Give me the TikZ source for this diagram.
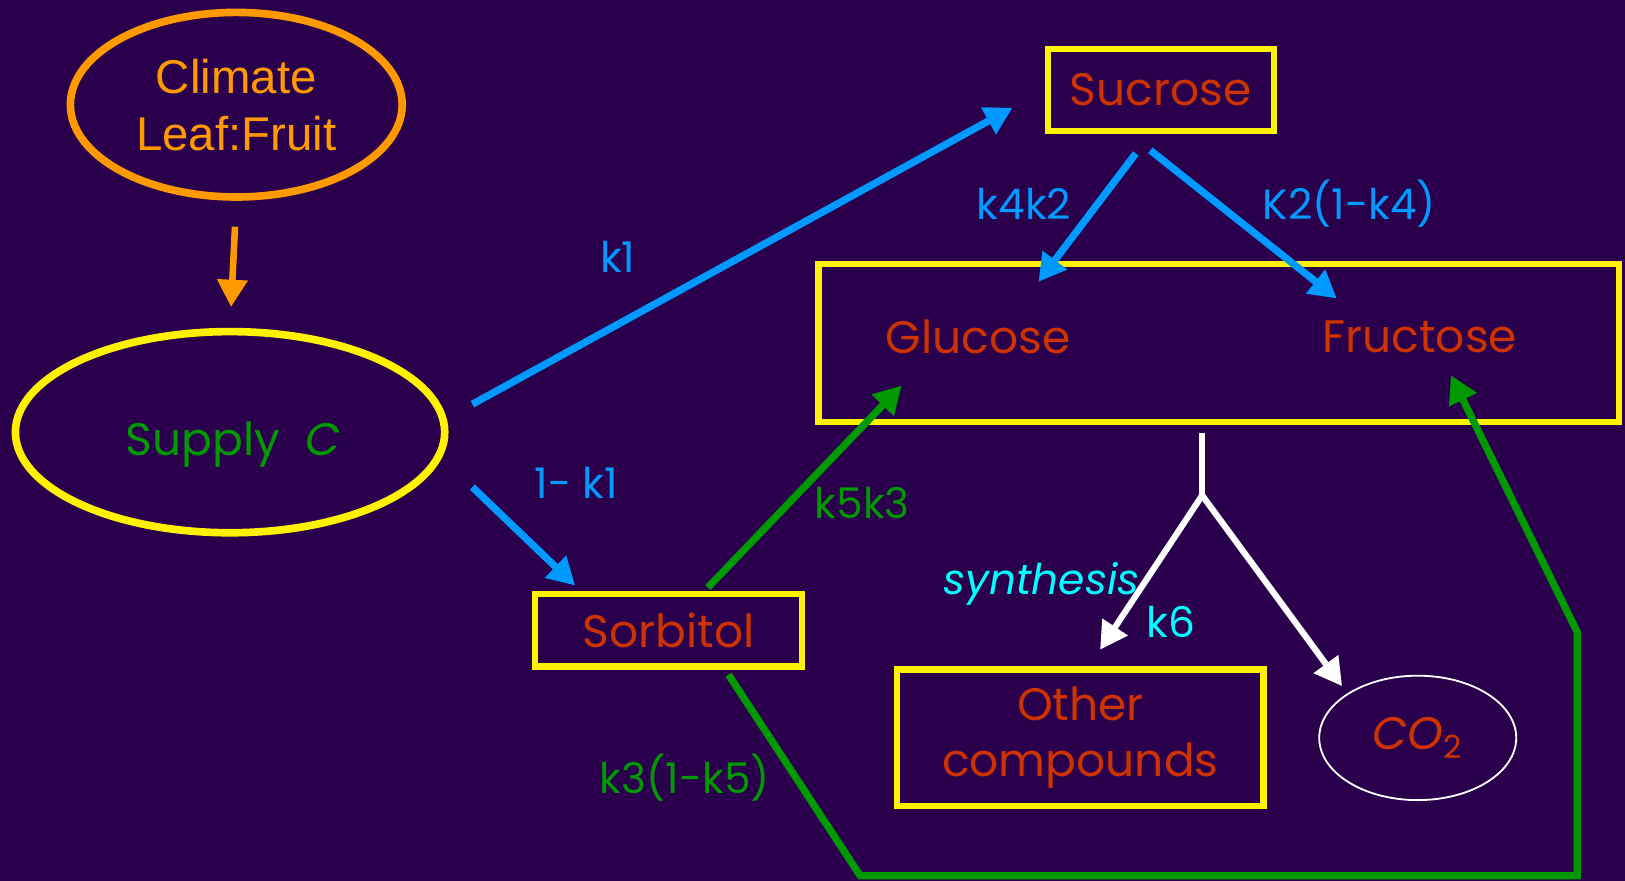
\documentclass[tikz,border=0pt]{standalone}
\usepackage{fontspec}
\setmainfont{Poppins}
\newfontfamily\arialfont{Liberation Sans}
\usepackage{tikz}
\usetikzlibrary{arrows.meta,shapes.geometric}
\definecolor{backdrop}{RGB}{42,0,76}
\definecolor{sugar}{RGB}{204,51,0}
\definecolor{leafgreen}{RGB}{0,153,0}
\definecolor{skyblue}{RGB}{0,153,255}
\definecolor{amber}{RGB}{255,153,0}
\definecolor{aqua}{RGB}{0,255,255}
\newcommand{\BoxFont}{\fontsize{12.5}{15.4}\selectfont}
\newcommand{\RateFont}{\fontsize{11.6}{14}\selectfont}
\tikzset{
  pool/.style={draw=yellow, line width=1.7pt, inner sep=0pt, text=sugar, font=\BoxFont, align=center},
  sugarText/.style={text=sugar, font=\BoxFont, inner sep=2pt},
  rate/.style={font=\RateFont, inner sep=1pt},
  tip/.style={-{Triangle[length=7.5pt,width=8pt]}},
  flowBlue/.style={tip, draw=skyblue, line width=2pt},
  flowGreen/.style={tip, draw=leafgreen, line width=2pt},
  flowWhite/.style={draw=white, line width=1.7pt}
}

\begin{document}
\begin{tikzpicture}[x=0.01cm, y=-0.01cm]
  \fill[backdrop] (0,0) rectangle (1568,850);
  \useasboundingbox (0,0) rectangle (1568,850);
  % drivers and carbon supply
  \node[ellipse, draw=amber, line width=2.1pt, minimum width=3.2cm, minimum height=1.78cm,
        text=amber, font=\arialfont\fontsize{13}{15.6}\selectfont, align=center] (Clim) at (228,101) {Climate\\Leaf:Fruit};
  \node[ellipse, draw=yellow, line width=2.1pt, minimum width=4.14cm, minimum height=1.94cm] (Sup) at (222,417) {};
  \node[text=leafgreen, font=\BoxFont, inner sep=0pt] (SupT) at (225,429) {Supply\hspace{0.55em}{\itshape C}};
  \draw[tip, draw=amber, line width=1.8pt, shorten <=0.25cm, shorten >=0.2cm] (Clim.south) -- (Sup.north);
  % sugar pools
  \node[pool, minimum width=2.18cm, minimum height=0.79cm] (Suc) at (1120,86.5) {Sucrose};
  \node[pool, minimum width=2.58cm, minimum height=0.70cm] (Sor) at (645,608) {Sorbitol};
  \node[pool, minimum width=7.72cm, minimum height=1.52cm] (Box) at (1176,331) {};
  \node[sugarText] (Glu) at (944,325) {Glucose};
  \node[sugarText] (Fru) at (1370,325) {Fructose};
  \node[pool, minimum width=3.53cm, minimum height=1.32cm] (Oth) at (1042.5,712) {Other\\compounds};
  \node[ellipse, draw=white, line width=0.5pt, minimum width=1.9cm, minimum height=1.2cm,
        inner sep=0pt, text=sugar, font=\BoxFont] (CO) at (1368,712) {{\itshape CO}\textsubscript{2}};
  % supply split
  \draw[flowBlue] ([shift={(23,-27)}]Sup.east) -- ([shift={(-31,17.5)}]Suc.west);
  \draw[flowBlue] ([shift={(23,53)}]Sup.east) -- ([shift={(-90,-5)}]Sor.north);
  \node[rate, text=skyblue] (r1) at (596,248) {k1};
  \node[rate, text=skyblue] (r2) at (556,466) {1- k1};
  % sucrose breakdown
  \draw[flowBlue] ([shift={(-24,19)}]Suc.south) -- ([shift={(58,-53)}]Glu.center);
  \draw[flowBlue] ([shift={(-10,16)}]Suc.south) -- ([shift={(-80,-37)}]Fru.center);
  \node[rate, text=skyblue] (r3) at (988,197) {k4k2};
  \node[rate, text=skyblue] (r4) at (1302,197) {K2(1-k4)};
  % sorbitol conversion
  \draw[flowGreen] ([shift={(38,-3)}]Sor.north) -- ([shift={(-74,47)}]Glu.center);
  \draw[flowGreen, line join=miter] ([shift={(58,5)}]Sor.south) -- (830,845) -- (1522,845) -- (1522,610)
    -- ([shift={(30,37)}]Fru.center);
  \node[rate, text=leafgreen] (r5) at (832,485) {k5k3};
  \node[rate, text=leafgreen] (r6) at (661,750) {k3(1-k5)};
  % use of hexoses
  \coordinate (J) at (1160,478);
  \draw[flowWhite] ([shift={(-16,8)}]Box.south) -- (J);
  \draw[flowWhite, tip] (J) -- ([shift={(19,-16)}]Oth.north);
  \draw[flowWhite, tip] (J) -- ([shift={(-73,-50)}]CO.center);
  \node[rate, text=aqua, font=\RateFont\itshape] (r7) at (1005,563) {synthesis};
  \node[rate, text=aqua] (r8) at (1130,600) {k6};
\end{tikzpicture}
\end{document}
